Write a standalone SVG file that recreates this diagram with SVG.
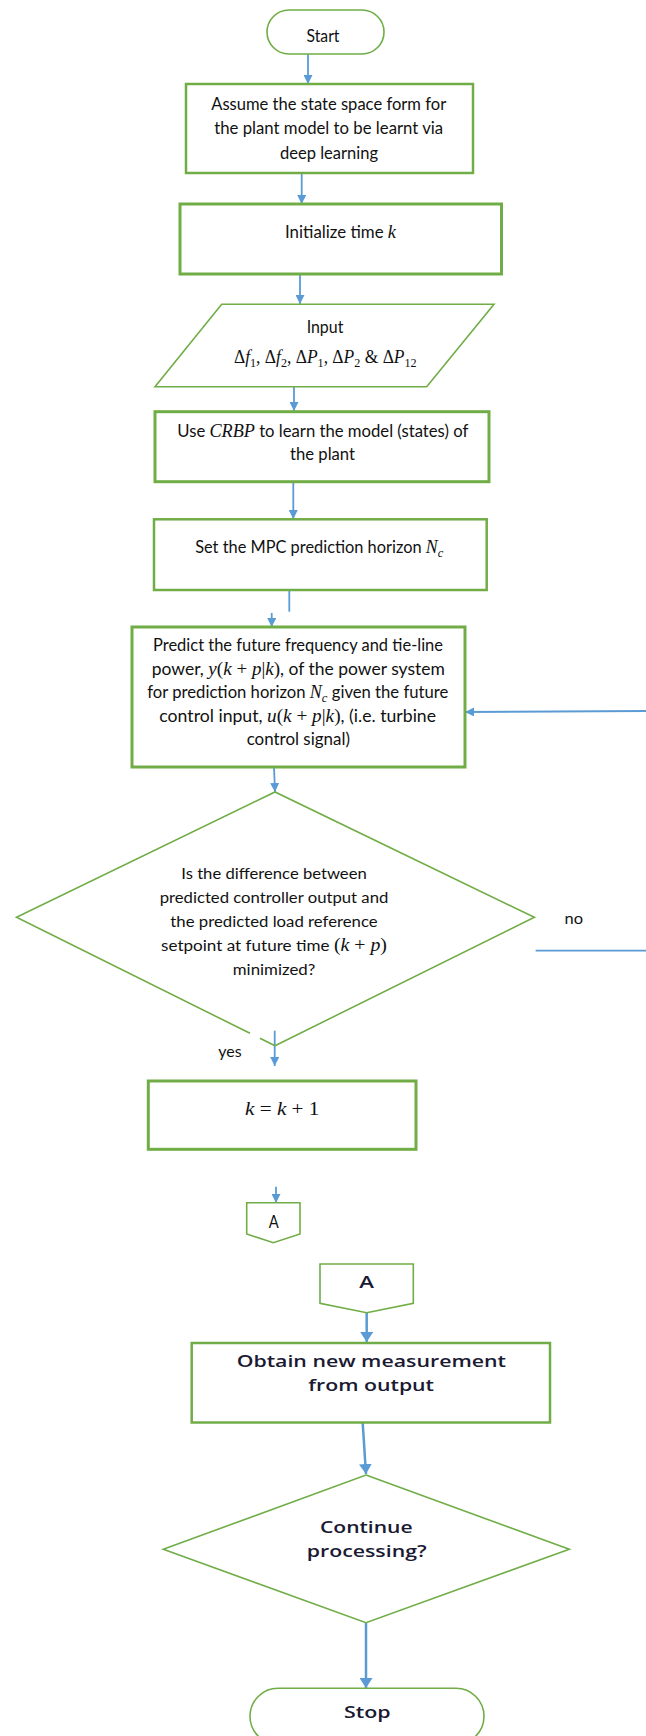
<svg xmlns="http://www.w3.org/2000/svg" width="646" height="1736" viewBox="0 0 646 1736">
  <style>
    .bg { fill: #ffffff; }
    .n { fill: #ffffff; stroke: #70ad47; stroke-width: 1.6; }
    .n2 { fill: #ffffff; stroke: #70ad47; stroke-width: 2.5; }
    .n3 { fill: #ffffff; stroke: #70ad47; stroke-width: 3; }
    .edge { fill: none; stroke: #70ad47; stroke-width: 1.6; }
    .c { fill: none; stroke: #5b9bd5; stroke-width: 1.8; }
    .cb { fill: none; stroke: #5b9bd5; stroke-width: 2.5; }
    .t { font-family: Lato, "Open Sans", "Liberation Sans", sans-serif; font-size: 16.5px; fill: #111111; text-anchor: middle; }
    .d { font-size: 15.5px; }
    .b { font-family: "Open Sans", "DejaVu Sans", sans-serif; font-weight: 600; font-size: 17px; fill: #1a1a33; text-anchor: middle; }
    .mi { font-family: "Liberation Serif", "DejaVu Serif", serif; font-style: italic; font-size: 18px; }
    .mu { font-family: "Liberation Serif", "DejaVu Serif", serif; font-style: normal; font-size: 18px; }
    .sb { font-size: 12.5px; }
  </style>
  <defs>
    <marker id="ah" markerUnits="userSpaceOnUse" markerWidth="9" markerHeight="9" viewBox="0 0 10 10" refX="10" refY="5" orient="auto">
      <path d="M0,0 L10,5 L0,10 Z" fill="#5b9bd5"/>
    </marker>
    <marker id="ahb" markerUnits="userSpaceOnUse" markerWidth="10" markerHeight="13" viewBox="0 0 10 13" refX="10" refY="6.5" orient="auto">
      <path d="M0,0 L10,6.5 L0,13 Z" fill="#5b9bd5"/>
    </marker>
  </defs>

  <rect class="bg" x="0" y="0" width="646" height="1736"/>

  <!-- connectors -->
  <g id="connectors">
    <line class="c" x1="308" y1="54" x2="308" y2="84" marker-end="url(#ah)"/>
    <line class="c" x1="301.7" y1="173" x2="301.7" y2="204" marker-end="url(#ah)"/>
    <line class="c" x1="300" y1="275" x2="300" y2="304" marker-end="url(#ah)"/>
    <line class="c" x1="294" y1="387" x2="294" y2="411" marker-end="url(#ah)"/>
    <line class="c" x1="293.3" y1="482" x2="293.3" y2="519" marker-end="url(#ah)"/>
    <line class="c" x1="289.3" y1="590" x2="289.3" y2="611.7"/>
    <line class="c" x1="271.7" y1="613" x2="271.7" y2="627" marker-end="url(#ah)"/>
    <line class="c" x1="646" y1="711" x2="465" y2="712" marker-end="url(#ah)"/>
    <line class="c" x1="274" y1="767" x2="275" y2="792" marker-end="url(#ah)"/>
    <line class="c" x1="535.6" y1="950.7" x2="646" y2="950.7"/>
    <line class="c" x1="274.7" y1="1030.7" x2="274.7" y2="1066" marker-end="url(#ah)"/>
    <line class="c" x1="276" y1="1186.7" x2="276" y2="1203" marker-end="url(#ah)"/>
    <line class="cb" x1="366.7" y1="1313" x2="366.7" y2="1342" marker-end="url(#ahb)"/>
    <line class="cb" x1="362.7" y1="1423" x2="366" y2="1474" marker-end="url(#ahb)"/>
    <line class="cb" x1="366" y1="1623" x2="366" y2="1688" marker-end="url(#ahb)"/>
  </g>

  <!-- start terminator -->
  <g id="start">
    <rect class="n" x="267" y="10" width="117" height="44" rx="22"/>
    <text class="t" x="323" y="41.7" textLength="33" lengthAdjust="spacingAndGlyphs">Start</text>
  </g>

  <!-- plant model assumption -->
  <g id="assume">
    <rect class="n2" x="186" y="84" width="287" height="89"/>
    <text class="t" x="328.7" y="110" textLength="235" lengthAdjust="spacingAndGlyphs">Assume the state space form for</text>
    <text class="t" x="328.7" y="134.3" textLength="229" lengthAdjust="spacingAndGlyphs">the plant model to be learnt via</text>
    <text class="t" x="329" y="158.6" textLength="98" lengthAdjust="spacingAndGlyphs">deep learning</text>
  </g>

  <!-- time initialisation -->
  <g id="init">
    <rect class="n3" x="180" y="204" width="321.5" height="70"/>
    <text class="t" x="340.5" y="238.3" textLength="111" lengthAdjust="spacingAndGlyphs">Initialize time <tspan class="mi">k</tspan></text>
  </g>

  <!-- input parallelogram -->
  <g id="input">
    <polygon class="n" points="221.7,304.3 494,304.3 426.7,386.7 155,386.7"/>
    <text class="t" x="325" y="332.7" textLength="36.7" lengthAdjust="spacingAndGlyphs">Input</text>
    <text class="t mu" x="325.3" y="363.3" textLength="182.7" lengthAdjust="spacingAndGlyphs">Δ<tspan class="mi">f</tspan><tspan class="sb" dy="4">1</tspan><tspan dy="-4">, Δ</tspan><tspan class="mi">f</tspan><tspan class="sb" dy="4">2</tspan><tspan dy="-4">, Δ</tspan><tspan class="mi">P</tspan><tspan class="sb" dy="4">1</tspan><tspan dy="-4">, Δ</tspan><tspan class="mi">P</tspan><tspan class="sb" dy="4">2</tspan><tspan dy="-4"> &amp; Δ</tspan><tspan class="mi">P</tspan><tspan class="sb" dy="4">12</tspan></text>
  </g>

  <!-- model learning -->
  <g id="learn">
    <rect class="n3" x="155" y="411.7" width="334" height="70"/>
    <text class="t" x="322.8" y="436.7" textLength="291" lengthAdjust="spacingAndGlyphs">Use <tspan class="mi">CRBP</tspan> to learn the model (states) of</text>
    <text class="t" x="322.5" y="460" textLength="65" lengthAdjust="spacingAndGlyphs">the plant</text>
  </g>

  <!-- prediction horizon -->
  <g id="horizon">
    <rect class="n2" x="154" y="519.3" width="332.7" height="70.7"/>
    <text class="t" x="319.2" y="553.3" textLength="248" lengthAdjust="spacingAndGlyphs">Set the MPC prediction horizon <tspan class="mi">N</tspan><tspan class="mi sb" dy="4">c</tspan></text>
  </g>

  <!-- prediction step -->
  <g id="predict">
    <rect class="n3" x="132" y="627" width="333" height="140"/>
    <text class="t" x="298" y="651" textLength="290" lengthAdjust="spacingAndGlyphs">Predict the future frequency and tie-line</text>
    <text class="t" x="298.3" y="674.5" textLength="293" lengthAdjust="spacingAndGlyphs">power, <tspan class="mi">y</tspan><tspan class="mu">(</tspan><tspan class="mi">k</tspan><tspan class="mu"> + </tspan><tspan class="mi">p</tspan><tspan class="mu">|</tspan><tspan class="mi">k</tspan><tspan class="mu">)</tspan>, of the power system</text>
    <text class="t" x="297.8" y="698" textLength="301" lengthAdjust="spacingAndGlyphs">for prediction horizon <tspan class="mi">N</tspan><tspan class="mi sb" dy="4">c</tspan><tspan dy="-4"> given the future</tspan></text>
    <text class="t" x="297.7" y="721.5" textLength="276.7" lengthAdjust="spacingAndGlyphs">control input, <tspan class="mi">u</tspan><tspan class="mu">(</tspan><tspan class="mi">k</tspan><tspan class="mu"> + </tspan><tspan class="mi">p</tspan><tspan class="mu">|</tspan><tspan class="mi">k</tspan><tspan class="mu">)</tspan>, (i.e. turbine</text>
    <text class="t" x="298.3" y="745" textLength="103.3" lengthAdjust="spacingAndGlyphs">control signal)</text>
  </g>

  <!-- minimisation decision -->
  <g id="decision">
    <polyline class="edge" points="250,1033.3 16.5,917.3 275,792 534.4,917.3 275,1045.7"/>
    <line class="edge" x1="260" y1="1038.3" x2="275" y2="1045.7"/>
    <text class="t d" x="274" y="878.5" textLength="185.4" lengthAdjust="spacingAndGlyphs">Is the difference between</text>
    <text class="t d" x="274" y="902.5" textLength="228.7" lengthAdjust="spacingAndGlyphs">predicted controller output and</text>
    <text class="t d" x="274" y="926.5" textLength="207.3" lengthAdjust="spacingAndGlyphs">the predicted load reference</text>
    <text class="t d" x="274" y="950.5" textLength="225.8" lengthAdjust="spacingAndGlyphs">setpoint at future time <tspan class="mu">(</tspan><tspan class="mi">k</tspan><tspan class="mu"> + </tspan><tspan class="mi">p</tspan><tspan class="mu">)</tspan></text>
    <text class="t d" x="274" y="974.5" textLength="82.4" lengthAdjust="spacingAndGlyphs">minimized?</text>
    <text class="t d" x="573.8" y="924" textLength="18.5" lengthAdjust="spacingAndGlyphs">no</text>
    <text class="t d" x="230" y="1057.3" textLength="23.3" lengthAdjust="spacingAndGlyphs">yes</text>
  </g>

  <!-- time increment -->
  <g id="increment">
    <rect class="n3" x="148.3" y="1081" width="267.7" height="68.3"/>
    <text class="t mu" x="282.2" y="1115" textLength="74.3" lengthAdjust="spacingAndGlyphs"><tspan class="mi">k</tspan> = <tspan class="mi">k</tspan> + 1</text>
  </g>

  <!-- off-page connector out -->
  <g id="connector-a-out">
    <polygon class="n" points="246.7,1202.7 300,1202.7 300,1234 273.3,1242.7 246.7,1234"/>
    <text class="t" x="273.7" y="1228.3" font-size="14" textLength="10" lengthAdjust="spacingAndGlyphs">A</text>
  </g>

  <!-- off-page connector in -->
  <g id="connector-a-in">
    <polygon class="n" points="320,1264 413.3,1264 413.3,1303.3 366.7,1312.7 320,1303.3"/>
    <text class="b" x="366.7" y="1288.3" textLength="14.7" lengthAdjust="spacingAndGlyphs">A</text>
  </g>

  <!-- measurement -->
  <g id="measure">
    <rect class="n2" x="191.7" y="1343" width="358.3" height="79.5"/>
    <text class="b" x="371.3" y="1367.3" textLength="269.3" lengthAdjust="spacingAndGlyphs">Obtain new measurement</text>
    <text class="b" x="371.2" y="1391" textLength="125.7" lengthAdjust="spacingAndGlyphs">from output</text>
  </g>

  <!-- continue decision -->
  <g id="continue">
    <polygon class="n" points="366,1475 569.3,1549.3 366,1622.7 163.3,1549.3"/>
    <text class="b" x="366.3" y="1533.3" textLength="92.7" lengthAdjust="spacingAndGlyphs">Continue</text>
    <text class="b" x="366.7" y="1556.7" textLength="120" lengthAdjust="spacingAndGlyphs">processing?</text>
  </g>

  <!-- stop terminator -->
  <g id="stop">
    <rect class="n" x="250" y="1688.3" width="234" height="56" rx="28"/>
    <text class="b" x="367.3" y="1718.3" textLength="46.7" lengthAdjust="spacingAndGlyphs">Stop</text>
  </g>
</svg>
